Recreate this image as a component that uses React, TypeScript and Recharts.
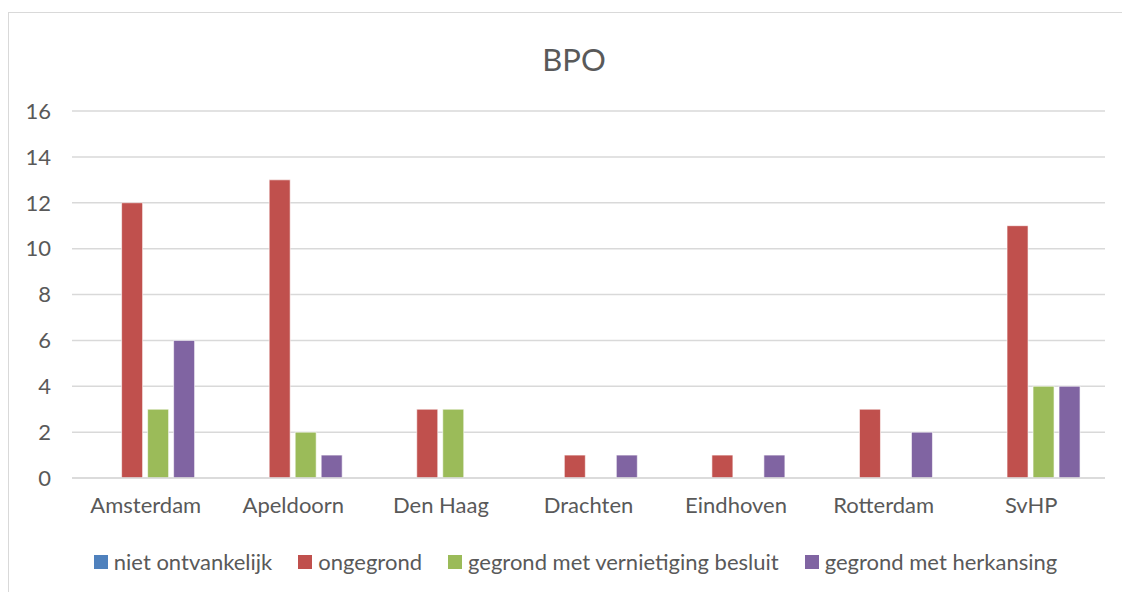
import { BarChart, Bar, XAxis, YAxis, CartesianGrid, Legend } from 'recharts';

// Data per vestiging
const categories = ['Amsterdam', 'Apeldoorn', 'Den Haag', 'Drachten', 'Eindhoven', 'Rotterdam', 'SvHP'];
const nietOntvankelijk = [0, 0, 0, 0, 0, 0, 0];
const ongegrond = [12, 13, 3, 1, 1, 3, 11];
const gegrondVernietiging = [3, 2, 3, 0, 0, 0, 4];
const gegrondHerkansing = [6, 1, 0, 1, 1, 2, 4];
const yTicks = [0, 2, 4, 6, 8, 10, 12, 14, 16];

const series = [
  { key: 'niet', name: 'niet ontvankelijk', color: '#4f81bd' },
  { key: 'ongegrond', name: 'ongegrond', color: '#c0504d' },
  { key: 'vernietiging', name: 'gegrond met vernietiging besluit', color: '#9bbb59' },
  { key: 'herkansing', name: 'gegrond met herkansing', color: '#8064a2' },
];

const data = categories.map((name, i) => ({
  name,
  niet: nietOntvankelijk[i],
  ongegrond: ongegrond[i],
  vernietiging: gegrondVernietiging[i],
  herkansing: gegrondHerkansing[i],
}));

const FONT = 'Lato, "Open Sans", sans-serif';
const TEXT = '#595959';

const renderLegend = () => (
  <div style={{ display: 'flex', justifyContent: 'center', height: 26, lineHeight: '26px', fontFamily: FONT, fontSize: 22, color: TEXT, paddingLeft: 63 }}>
    {series.map((s) => (
      <div key={s.key} style={{ display: 'flex', alignItems: 'center', marginRight: 26 }}>
        <span style={{ width: 14, height: 14, background: s.color, marginRight: 6, display: 'inline-block' }} />
        <span>{s.name}</span>
      </div>
    ))}
  </div>
);

const App = () => {
  return (
    <div style={{ position: 'relative', marginTop: 4, width: 1140, height: 600, border: '1px solid #d9d9d9', background: '#fff' }}>
      <div style={{ position: 'absolute', top: 27, left: 0, width: 1130, textAlign: 'center', fontFamily: FONT, fontSize: 31, color: TEXT }}>
        BPO
      </div>
      <BarChart
        width={1130}
        height={580}
        data={data}
        margin={{ top: 98, right: 34, left: 0, bottom: 18 }}
        barCategoryGap="16%"
        barGap={5}
      >
        <CartesianGrid vertical={false} stroke="#d9d9d9" strokeWidth={1.5} />
        <XAxis
          dataKey="name"
          height={71}
          tickLine={false}
          axisLine={{ stroke: '#d9d9d9', strokeWidth: 1.5 }}
          tickSize={0}
          tickMargin={19}
          tick={{ fill: TEXT, fontSize: 22, fontFamily: FONT }}
        />
        <YAxis
          width={63}
          domain={[0, 16]}
          ticks={yTicks}
          tickLine={false}
          axisLine={false}
          tickSize={0}
          tickMargin={21}
          tick={{ fill: TEXT, fontSize: 22, fontFamily: FONT }}
        />
        <Legend verticalAlign="bottom" content={renderLegend} />
        {series.map((s) => (
          <Bar key={s.key} dataKey={s.key} name={s.name} fill={s.color} stroke="#fff" strokeOpacity={0.6} strokeWidth={1} isAnimationActive={false} />
        ))}
      </BarChart>
    </div>
  );
};

export default App;
